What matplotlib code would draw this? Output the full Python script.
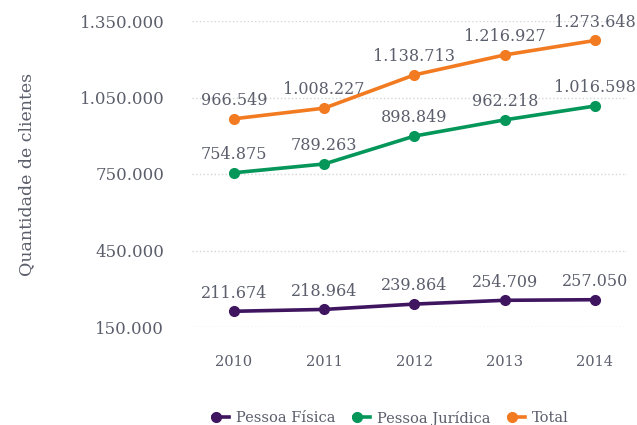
import numpy as np
import matplotlib.pyplot as plt
from matplotlib.lines import Line2D
from matplotlib.legend_handler import HandlerBase

# dados
anos = ['2010', '2011', '2012', '2013', '2014']
fisica = [211674, 218964, 239864, 254709, 257050]
juridica = [754875, 789263, 898849, 962218, 1016598]
total = [966549, 1008227, 1138713, 1216927, 1273648]
yticks = [150000, 450000, 750000, 1050000, 1350000]

cores = {'fisica': '#3f1560', 'juridica': '#05965a', 'total': '#f27b21'}
cinza = '#5b5e6b'

def fmt(v):
	return f'{v:,}'.replace(',', '.')

# handle da legenda: bolinha a esquerda e traco a direita
class HandlerPonto(HandlerBase):
	def create_artists(self, legend, orig, xd, yd, w, h, fs, trans):
		c = orig.get_color()
		y = yd + h / 2
		linha = Line2D([xd, xd + w], [y, y], color=c, lw=2.6, transform=trans)
		ponto = Line2D([xd + 2], [y], color=c, marker='o', ms=7, transform=trans)
		return [linha, ponto]

plt.rcParams['font.family'] = ['DejaVu Serif']

fig = plt.figure(figsize=(6.37, 4.25), dpi=100)
ax = fig.add_axes([192/637, 1 - 327/425, (627 - 192)/637, (327 - 21)/425])

x = np.arange(len(anos))
series = [(fisica, cores['fisica'], 'Pessoa Física'),
		  (juridica, cores['juridica'], 'Pessoa Jurídica'),
		  (total, cores['total'], 'Total')]

for vals, cor, nome in series:
	ax.plot(x, vals, color=cor, lw=2.6, marker='o', ms=7, zorder=3, clip_on=False)
	for xi, v in zip(x, vals):
		ax.annotate(fmt(v), (xi, v), xytext=(0, 7), textcoords='offset points',
					ha='center', va='bottom', fontsize=11.5, color=cinza)

ax.set_xlim(-0.465, 4.355)
ax.set_ylim(150000, 1350000)
ax.set_yticks(yticks)
ax.set_yticklabels([fmt(v) for v in yticks])
ax.set_xticks(x)
ax.set_xticklabels(anos)
ax.tick_params(axis='y', length=0, pad=20, labelsize=12, labelcolor=cinza)
ax.tick_params(axis='x', length=0, pad=20, labelsize=10.5, labelcolor=cinza)
ax.yaxis.grid(True, color='#d5d5d5', ls=':', lw=1)
for s in ax.spines.values():
	s.set_visible(False)

ax.set_ylabel('Quantidade de clientes', fontsize=12.5, color=cinza)
ax.yaxis.set_label_coords(-0.36, 0.5)

handles = [Line2D([0], [0], color=c) for _, c, _ in series]
fig.legend(handles, [n for _, _, n in series], loc='center', bbox_to_anchor=(391/637, 1 - 418/425),
		   ncol=3, frameon=False, fontsize=10.5, labelcolor=cinza, handlelength=1.1,
		   handletextpad=0.45, columnspacing=1.3,
		   handler_map={Line2D: HandlerPonto()})

plt.savefig('out.png', dpi=100)
